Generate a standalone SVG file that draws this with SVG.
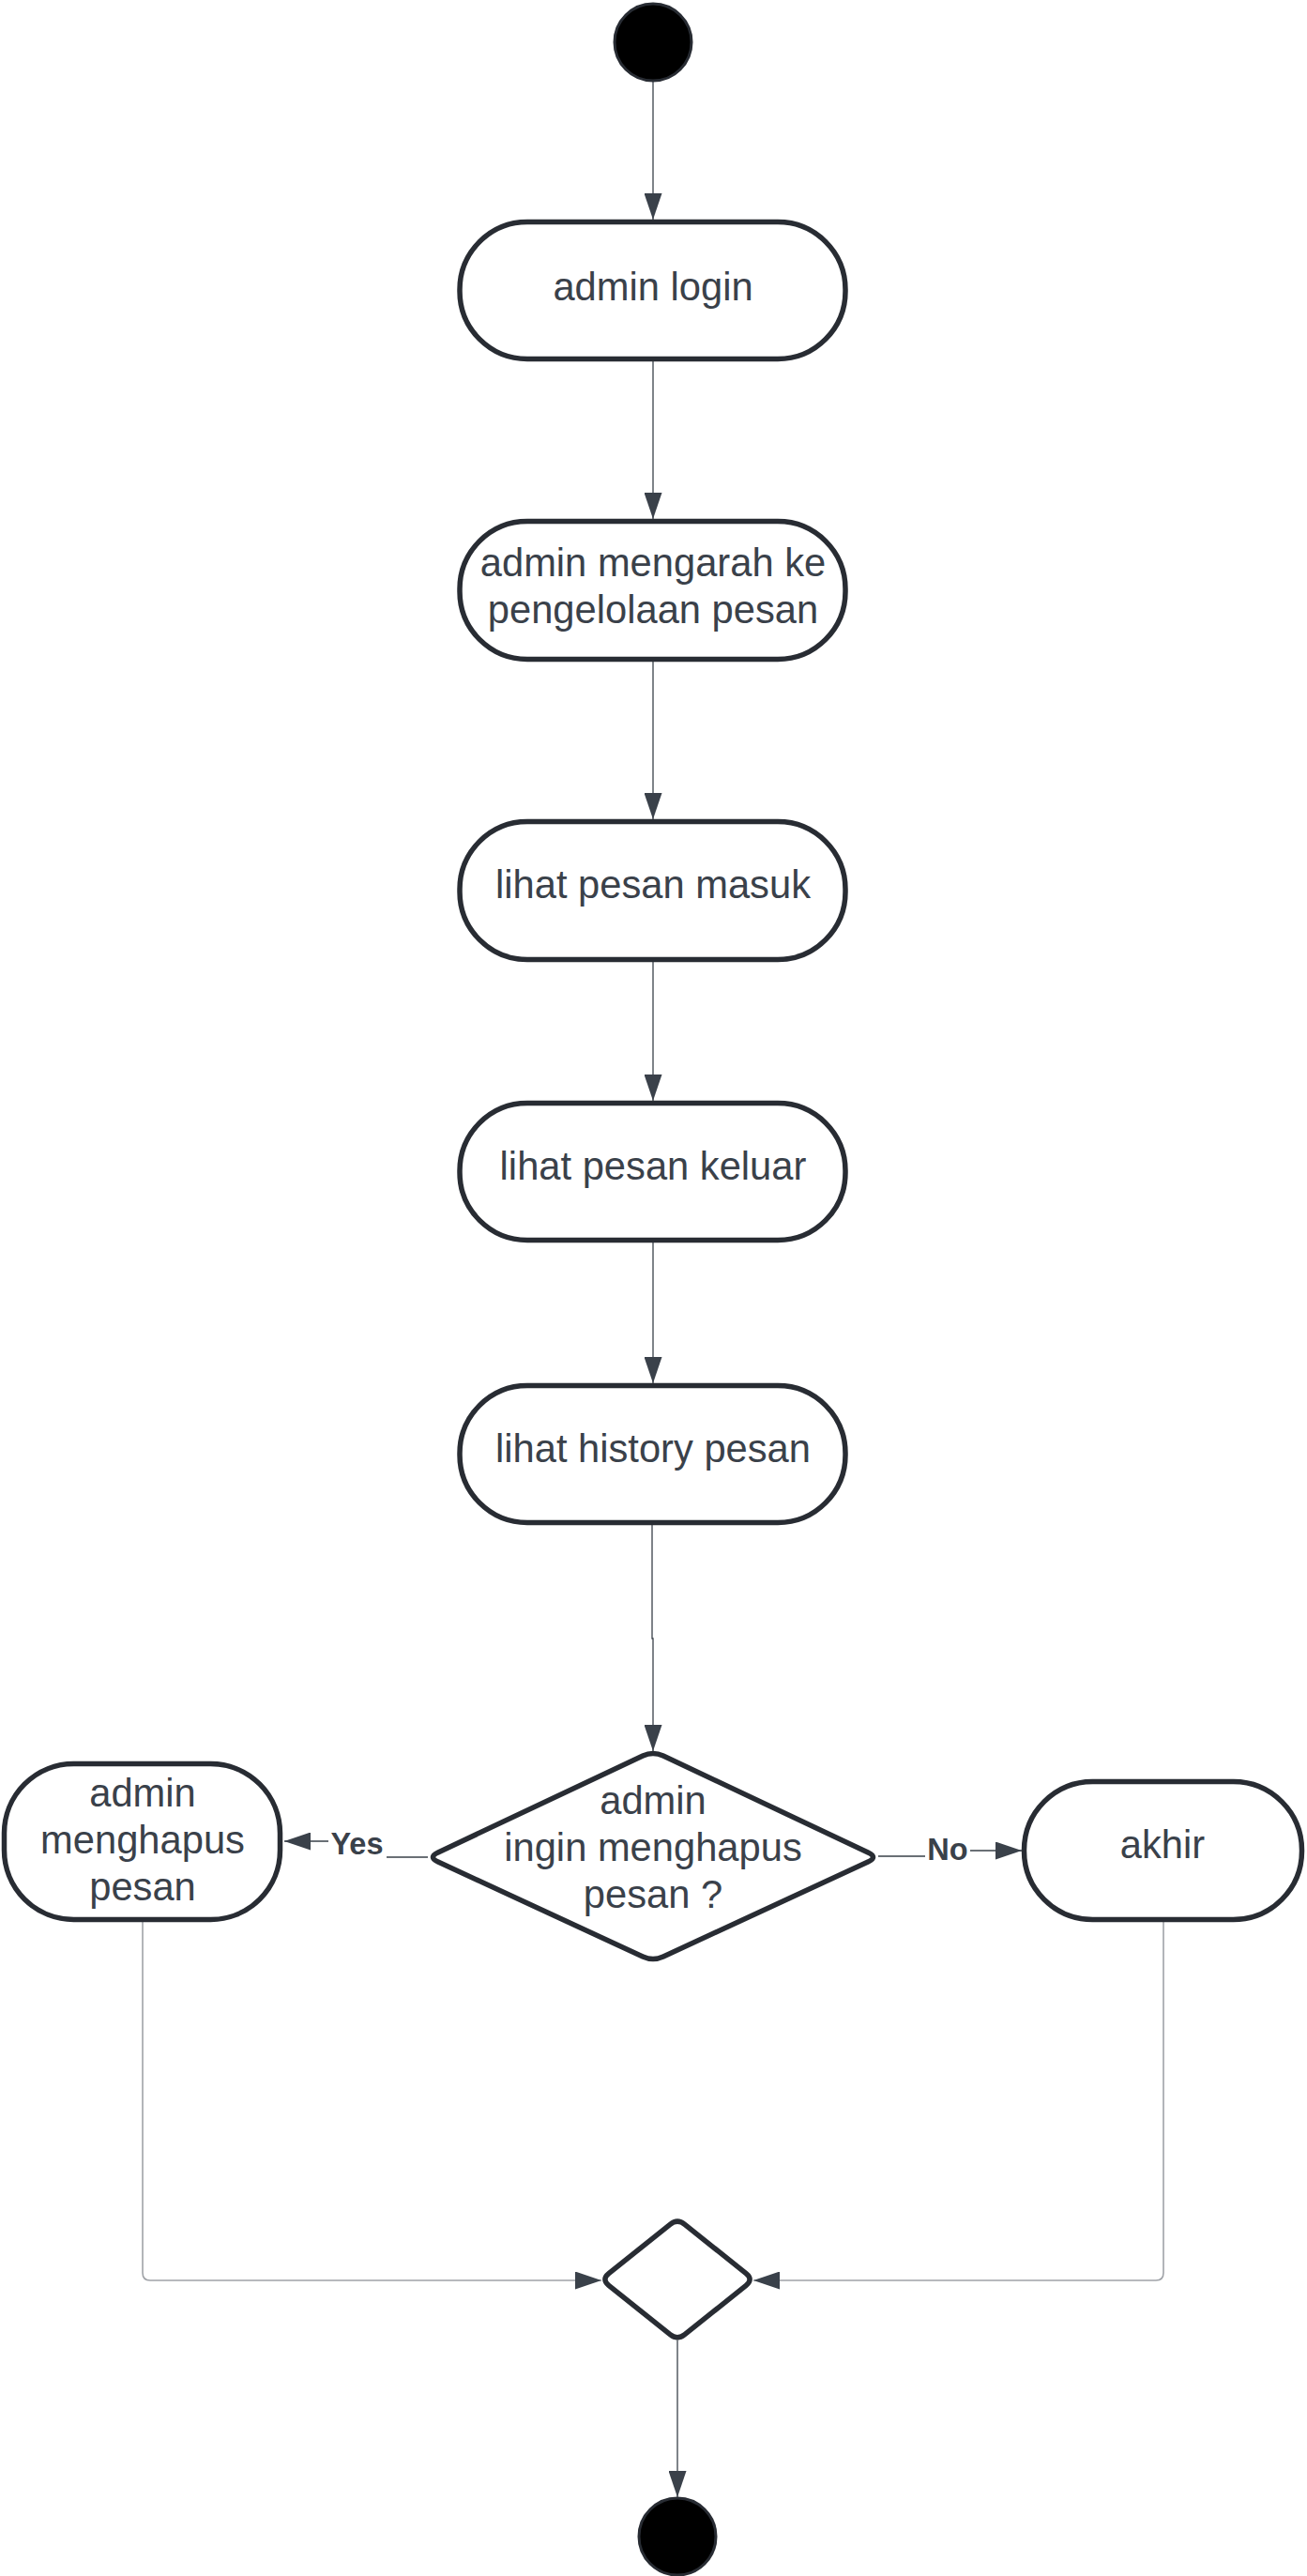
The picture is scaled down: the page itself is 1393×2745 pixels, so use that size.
<svg xmlns="http://www.w3.org/2000/svg" width="1393" height="2745" viewBox="0 0 1393 2745">
<style>
  .node { fill: #ffffff; stroke: #282c33; stroke-width: 5.5; }
  .term { fill: #000000; stroke: #282c33; stroke-width: 3; }
  .lbl { font-family: "Liberation Sans", Arial, sans-serif; font-size: 41.7px; fill: #3a414a; text-anchor: middle; }
  .elbl { font-family: "Liberation Sans", Arial, sans-serif; font-size: 32.5px; font-weight: bold; fill: #3a414a; text-anchor: middle; }
  .edge { fill: none; stroke: #3a414a; stroke-width: 1.3; marker-end: url(#arrow); }
  .edge.light { stroke: #a0a3a8; stroke-width: 1.6; }
  .lblbg { fill: #ffffff; }
</style>
<defs>
  <marker id="arrow" markerUnits="userSpaceOnUse" markerWidth="28" markerHeight="19" refX="28" refY="9.5" orient="auto">
    <path d="M0,0 L28,9.5 L0,19 Z" fill="#3a414a"/>
  </marker>
</defs>
<rect width="1393" height="2745" fill="#ffffff"/>

<g id="connectors">
  <path class="edge" d="M696,87 V234"/>
  <path class="edge" d="M696,385 V553"/>
  <path class="edge" d="M696,705 V873"/>
  <path class="edge" d="M696,1025 V1173"/>
  <path class="edge" d="M696,1324 V1474"/>
  <path class="edge" d="M695,1625 V1746 H696 V1866"/>
  <path class="edge" d="M456,1979 H381 V1962 H303"/>
  <path class="edge" d="M936,1978 H1010 V1972 H1089"/>
  <path class="edge light" d="M152,2048 V2422 Q152,2430 160,2430 H641"/>
  <path class="edge light" d="M1240,2048 V2422 Q1240,2430 1232,2430 H803"/>
  <path class="edge" d="M722,2494 V2661"/>
  <g id="label-yes">
    <rect class="lblbg" x="350" y="1948" width="62" height="38"/>
    <text class="elbl" x="380.5" y="1976">Yes</text>
  </g>
  <g id="label-no">
    <rect class="lblbg" x="986" y="1954" width="48" height="38"/>
    <text class="elbl" x="1010" y="1982">No</text>
  </g>
</g>

<g id="start">
  <circle class="term" cx="696" cy="45" r="41"/>
</g>

<g id="admin-login">
  <rect class="node" x="490" y="236.5" width="411" height="146" rx="72" ry="72"/>
  <text class="lbl" x="696" y="320">admin login</text>
</g>

<g id="admin-mengarah">
  <rect class="node" x="490" y="555.5" width="411" height="147" rx="72" ry="72"/>
  <text class="lbl" x="696" y="614">admin mengarah ke</text>
  <text class="lbl" x="696" y="664">pengelolaan pesan</text>
</g>

<g id="lihat-pesan-masuk">
  <rect class="node" x="490" y="875.5" width="411" height="147" rx="72" ry="72"/>
  <text class="lbl" x="696" y="957">lihat pesan masuk</text>
</g>

<g id="lihat-pesan-keluar">
  <rect class="node" x="490" y="1175.5" width="411" height="146" rx="72" ry="72"/>
  <text class="lbl" x="696" y="1257">lihat pesan keluar</text>
</g>

<g id="lihat-history-pesan">
  <rect class="node" x="490" y="1476.5" width="411" height="146" rx="72" ry="72"/>
  <text class="lbl" x="696" y="1558">lihat history pesan</text>
</g>

<g id="decision">
  <path class="node" d="M685.1,1871.1 Q696,1866 706.9,1871.1 L925.1,1973.9 Q936,1979 925.1,1984 L706.9,2085 Q696,2090 685.1,2085 L466.9,1984 Q456,1979 466.9,1973.9 Z"/>
  <text class="lbl" x="696" y="1933">admin</text>
  <text class="lbl" x="696" y="1983">ingin menghapus</text>
  <text class="lbl" x="696" y="2033">pesan ?</text>
</g>

<g id="admin-menghapus">
  <rect class="node" x="4.5" y="1879.5" width="294" height="166" rx="74" ry="74"/>
  <text class="lbl" x="152" y="1925">admin</text>
  <text class="lbl" x="152" y="1975">menghapus</text>
  <text class="lbl" x="152" y="2025">pesan</text>
</g>

<g id="akhir">
  <rect class="node" x="1091.5" y="1898.5" width="296" height="147" rx="73" ry="73"/>
  <text class="lbl" x="1239" y="1980">akhir</text>
</g>

<g id="merge">
  <path class="node" d="M714.2,2370.3 Q722,2364 729.8,2370.3 L795.2,2422.7 Q803,2429 795.2,2435.3 L729.8,2487.7 Q722,2494 714.2,2487.7 L648.8,2435.3 Q641,2429 648.8,2422.7 Z"/>
</g>

<g id="end">
  <circle class="term" cx="722" cy="2703" r="41"/>
</g>
</svg>
